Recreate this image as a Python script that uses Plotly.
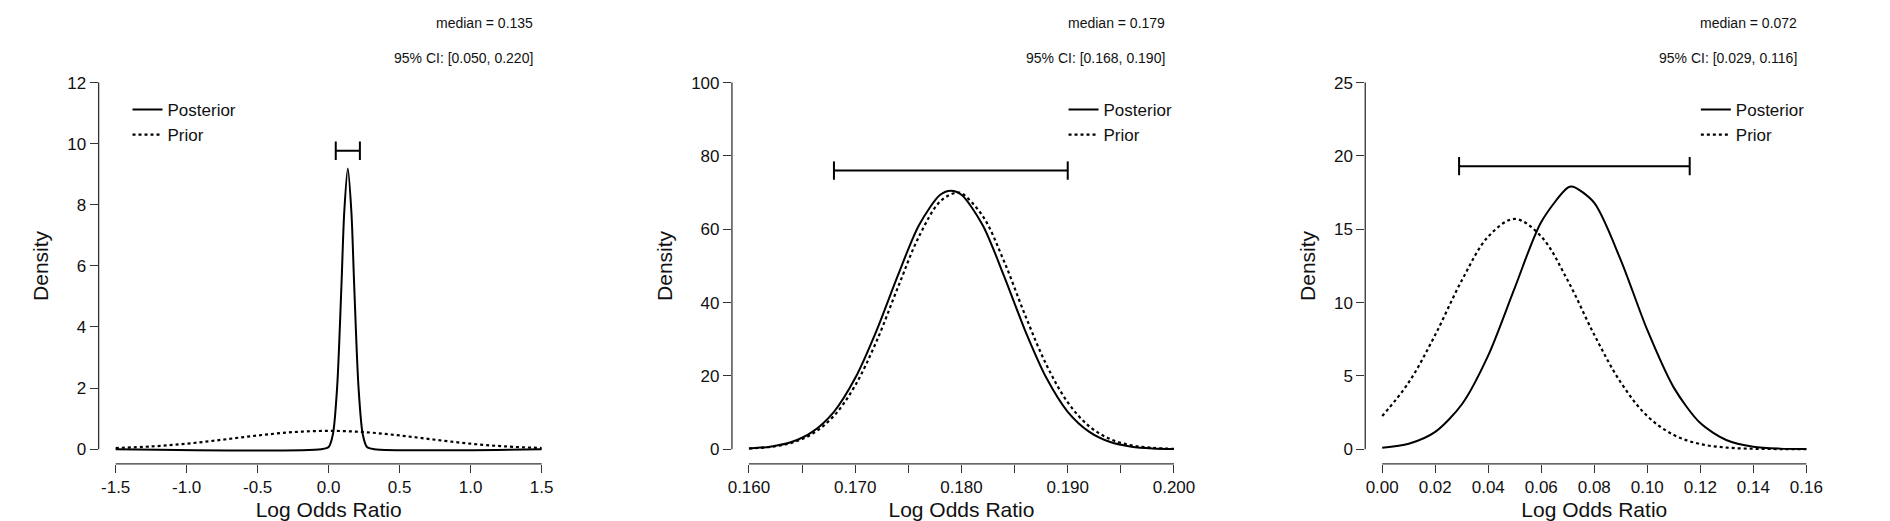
import plotly.graph_objects as go

# panel 1
p1_post_x = [-1.5, -0.05, 0.0, 0.03, 0.06, 0.09, 0.11, 0.135, 0.16, 0.18, 0.21, 0.24, 0.27, 0.32, 1.5]
p1_post_y = [0.0, 0.0, 0.07, 0.49, 2.05, 5.35, 7.78, 9.19, 7.78, 5.35, 2.05, 0.49, 0.07, 0.0, 0.0]
p1_prior_x = [-1.5, -1.25, -1.0, -0.75, -0.5, -0.25, 0.0, 0.25, 0.5, 0.75, 1.0, 1.25, 1.5]
p1_prior_y = [0.04, 0.09, 0.18, 0.31, 0.45, 0.56, 0.6, 0.56, 0.45, 0.31, 0.18, 0.09, 0.04]

# panel 2
p2_x = [0.160, 0.162, 0.164, 0.166, 0.168, 0.170, 0.172, 0.174, 0.176, 0.178, 0.179,
        0.180, 0.182, 0.184, 0.186, 0.188, 0.190, 0.192, 0.194, 0.196, 0.198, 0.200]
p2_post_y = [0.22, 0.7, 1.95, 4.8, 10.2, 19.4, 32.3, 47.3, 61.1, 69.4, 70.5,
             69.4, 61.1, 47.3, 32.3, 19.4, 10.2, 4.8, 1.95, 0.7, 0.22, 0.06]
p2_prior_x = [0.160, 0.162, 0.164, 0.166, 0.168, 0.170, 0.172, 0.174, 0.176, 0.178, 0.1795,
              0.180, 0.182, 0.184, 0.186, 0.188, 0.190, 0.192, 0.194, 0.196, 0.198, 0.200]
p2_prior_y = [0.2, 0.63, 1.73, 4.25, 9.1, 17.4, 29.4, 44.0, 58.0, 67.6, 70.0,
              69.8, 63.6, 51.3, 36.5, 23.0, 12.8, 6.3, 2.75, 1.06, 0.36, 0.11]

# panel 3
p3_x = [0.0, 0.01, 0.02, 0.03, 0.04, 0.05, 0.06, 0.07, 0.072, 0.08, 0.09,
        0.10, 0.11, 0.12, 0.13, 0.14, 0.15, 0.16]
p3_post_y = [0.1, 0.37, 1.18, 3.05, 6.4, 11.0, 15.5, 17.83, 17.9, 16.8, 12.9,
             8.13, 4.2, 1.78, 0.61, 0.17, 0.04, 0.01]
p3_prior_x = [0.0, 0.01, 0.02, 0.03, 0.04, 0.05, 0.06, 0.07, 0.08, 0.09,
              0.10, 0.11, 0.12, 0.13, 0.14, 0.15, 0.16]
p3_prior_y = [2.26, 4.55, 7.8, 11.5, 14.5, 15.7, 14.5, 11.5, 7.8, 4.55,
              2.26, 0.97, 0.35, 0.11, 0.03, 0.01, 0.0]

medians = ["0.135", "0.179", "0.072"]
ci_low = [0.050, 0.168, 0.029]
ci_high = [0.220, 0.190, 0.116]
ci_level = [9.77, 76.0, 19.3]

x_ticks = [
    [-1.5, -1.0, -0.5, 0.0, 0.5, 1.0, 1.5],
    [0.160, 0.165, 0.170, 0.175, 0.180, 0.185, 0.190, 0.195, 0.200],
    [0.0, 0.02, 0.04, 0.06, 0.08, 0.10, 0.12, 0.14, 0.16],
]
x_tick_text = [
    ["-1.5", "-1.0", "-0.5", "0.0", "0.5", "1.0", "1.5"],
    ["0.160", "", "0.170", "", "0.180", "", "0.190", "", "0.200"],
    ["0.00", "0.02", "0.04", "0.06", "0.08", "0.10", "0.12", "0.14", "0.16"],
]
y_ticks = [
    [0, 2, 4, 6, 8, 10, 12],
    [0, 20, 40, 60, 80, 100],
    [0, 5, 10, 15, 20, 25],
]

posteriors = [(p1_post_x, p1_post_y), (p2_x, p2_post_y), (p3_x, p3_post_y)]
priors = [(p1_prior_x, p1_prior_y), (p2_prior_x, p2_prior_y), (p3_prior_x, p3_prior_y)]

W, H = 1890, 521
x_domains = [(87, 549), (723, 1184), (1359, 1819)]
y_domain = [0.125, 0.885]
legend_x = [116, 1056, 1691]
cap_half = [0.3, 2.5, 0.62]
FONT = "Liberation Sans"

fig = go.Figure()
layout = {}
for i in range(3):
    sfx = "" if i == 0 else str(i + 1)
    xa, ya = "x" + sfx, "y" + sfx
    leg = "legend" + sfx
    xt, yt = x_ticks[i], y_ticks[i]
    fig.add_trace(go.Scatter(x=priors[i][0], y=priors[i][1], mode="lines", name="Prior",
                             line=dict(color="black", width=2.2, dash="dot", shape="spline"),
                             xaxis=xa, yaxis=ya, legend=leg))
    fig.add_trace(go.Scatter(x=posteriors[i][0], y=posteriors[i][1], mode="lines",
                             name="Posterior",
                             line=dict(color="black", width=2, shape="spline", smoothing=0.8),
                             xaxis=xa, yaxis=ya, legend=leg))
    lo, hi, lv, c = ci_low[i], ci_high[i], ci_level[i], cap_half[i]
    fig.add_trace(go.Scatter(x=[lo, hi, None, lo, lo, None, hi, hi],
                             y=[lv, lv, None, lv - c, lv + c, None, lv - c, lv + c],
                             mode="lines", line=dict(color="black", width=2),
                             showlegend=False, xaxis=xa, yaxis=ya))
    xspan = xt[-1] - xt[0]
    yspan = yt[-1] - yt[0]
    d0, d1 = x_domains[i]
    layout["xaxis" + sfx] = dict(
        domain=[d0 / W, d1 / W], anchor=ya,
        range=[xt[0] - 0.04 * xspan, xt[-1] + 0.04 * xspan],
        tickvals=xt, ticktext=x_tick_text[i], ticks="outside", ticklen=8, tickwidth=1.3,
        tickcolor="#333", showline=False, showgrid=False, zeroline=False,
        tickfont=dict(size=17, family=FONT, color="#111"),
        title=dict(text="Log Odds Ratio", font=dict(size=21, family=FONT, color="#111"),
                   standoff=6))
    layout["yaxis" + sfx] = dict(
        domain=y_domain, anchor=xa,
        range=[yt[0] - 0.04 * yspan, yt[-1] + 0.04 * yspan],
        tickvals=yt, ticks="outside", ticklen=8, tickwidth=1.3, tickcolor="#333",
        showline=False, showgrid=False, zeroline=False,
        tickfont=dict(size=17, family=FONT, color="#111"),
        title=dict(text="Density", font=dict(size=21, family=FONT, color="#111"), standoff=12))
    layout[leg] = dict(x=legend_x[i] / W, y=1 - 84 / H, xanchor="left", yanchor="top",
                       bgcolor="rgba(0,0,0,0)", font=dict(size=17, family=FONT, color="#111"),
                       traceorder="reversed", tracegroupgap=0, itemwidth=30)
    fig.add_shape(type="line", xref=xa, yref=ya + " domain", x0=xt[0], x1=xt[-1], y0=0, y1=0,
                  line=dict(color="#333", width=1.3))
    fig.add_shape(type="line", xref=xa + " domain", yref=ya, x0=0, x1=0, y0=yt[0], y1=yt[-1],
                  line=dict(color="#333", width=1.3))
    fig.add_annotation(text="median = " + medians[i], xref="paper", yref="paper",
                       x=(d1 - 24) / W, y=1 - 15 / H, xanchor="right", yanchor="middle",
                       showarrow=False, font=dict(size=14, family=FONT, color="#111"))
    fig.add_annotation(text="95% CI: [{:.3f}, {:.3f}]".format(lo, hi), xref="paper",
                       yref="paper", x=(d1 - 24) / W, y=1 - 50 / H, xanchor="right",
                       yanchor="middle", showarrow=False,
                       font=dict(size=14, family=FONT, color="#111"))

fig.update_layout(width=W, height=H, margin=dict(l=0, r=0, t=0, b=0),
                  plot_bgcolor="white", paper_bgcolor="white", **layout)
fig.write_html("out.html")
